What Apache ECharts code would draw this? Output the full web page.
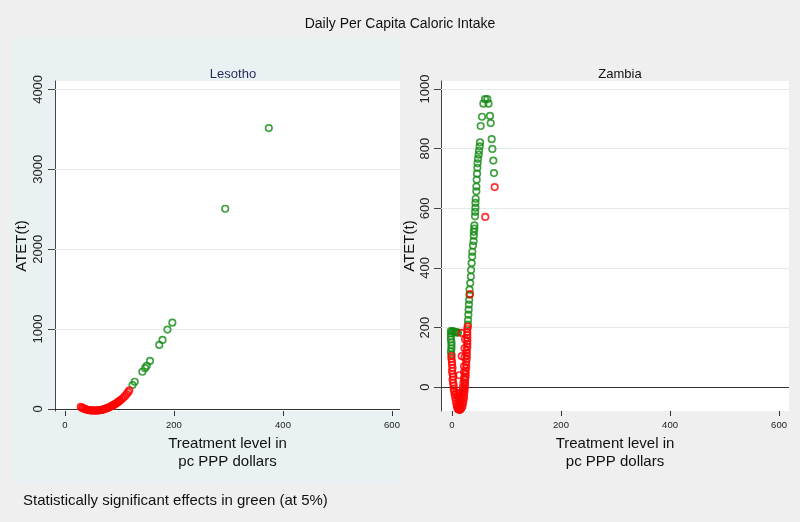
<!DOCTYPE html>
<html><head><meta charset="utf-8">
<script src="https://cdn.jsdelivr.net/npm/echarts@6/dist/echarts.min.js"></script>
<style>html,body{margin:0;padding:0;background:#efefef}#c{width:800px;height:522px}</style>
</head><body><div id="c"></div><script>
const chartTitle = 'Daily Per Capita Caloric Intake';
const panelNames = ['Lesotho', 'Zambia'];
const xTitle = 'Treatment level in\npc PPP dollars';
const yTitle = 'ATET(t)';
const footnote = 'Statistically significant effects in green (at 5%)';
const xTicks = [0, 200, 400, 600];
const lesothoYTicks = [0, 1000, 2000, 3000, 4000];
const zambiaYTicks = [0, 200, 400, 600, 800, 1000];

// Lesotho: [treatment level, ATET]
const lesothoRed = [[29,26],[31,17],[33,10],[35,4],[37,-1],[39,-6],[41,-10],[43,-13],[45,-15],[47,-17],[49,-18],[51,-19],[53,-19],[55,-19],[57,-19],[59,-18],[61,-17],[63,-16],[65,-14],[67,-11],[69,-8],[71,-4],[73,0],[75,5],[77,10],[79,15],[81,21],[83,28],[85,35],[87,42],[89,50],[91,57],[93,66],[95,75],[97,85],[99,95],[101,106],[104,122],[107,140],[110,160],[113,185],[116,210],[118,234]];
const lesothoGreen = [[124,299],[128,341],[142,466],[147,511],[150,540],[156,602],[173,802],[179,864],[188,994],[197,1081],[294,2506],[374,3516]];

// Zambia: [treatment level, ATET]
const zambiaRed = [[-1,104],[-1,95],[0,85],[0,75],[1,65],[0,55],[1,45],[2,35],[1,25],[2,15],[3,5],[3,-5],[4,-15],[5,-25],[6,-35],[7,-45],[8,-55],[9,-63],[10,-70],[11,-74],[13,-76],[15,-76],[17,-72],[19,-65],[20,-55],[21,-45],[22,-35],[22,-25],[23,-15],[23,-5],[24,5],[24,15],[24,25],[25,35],[25,45],[25,55],[26,65],[26,75],[26,85],[27,95],[27,105],[27,115],[27,125],[28,135],[28,145],[28,155],[28,165],[28,175],[28,185],[28,195],[29,203],[8,-20],[10,-30],[12,-40],[14,-50],[16,-60],[12,-60],[15,-68],[18,-50],[18,-35],[19,-20],[20,-10],[16,-40],[14,-20],[20,0],[21,15],[22,30],[22,50],[22,70],[23,100],[23,130],[24,160],[13.5,40],[17.8,104],[17.7,182],[33,312],[61,571],[78.3,671]];
const zambiaGreen = [[-2,188],[-2,180],[-2,170],[-2,160],[-1,150],[-1,140],[-1,130],[-2,120],[-1,110],[1,188],[3,186],[5,185],[7,184],[9,184],[11,183],[29,210],[29.5,225],[30,243],[30.5,260],[31,277],[31.5,293],[32,310],[32.2,327],[33.4,349],[34.6,371],[35,393],[36,416],[37,438],[37.2,454],[38.5,475],[39.6,490],[40,508],[40.1,521],[41,532],[41,543],[42.3,573],[42.5,588],[43,602],[43,618],[43.5,632],[44.7,657],[44.7,673],[45.3,696],[46,716],[46.5,736],[47,751],[47.7,766],[48.9,780],[49.5,793],[50.8,808],[51.4,821],[52.6,876],[55,907],[57.5,951],[60.6,966],[64.8,966],[67,951],[69.7,910],[71,886],[72.8,832],[74,799],[75.8,760],[77,718]];

const FONT = '"Liberation Sans", Arial, sans-serif';
const RED = '#ff0000', GREEN = '#138a13';
const chart = echarts.init(document.getElementById('c'), null, {renderer: 'canvas'});

function xAxis(gi) {
  return {
    type: 'value', gridIndex: gi, min: gi === 0 ? -18.3 : -20.2, max: gi === 0 ? 614.7 : 618.3,
    axisLine: {show: false, onZero: false},
    axisTick: {show: true, length: 5, customValues: xTicks, lineStyle: {color: '#333'}},
    axisLabel: {customValues: xTicks, fontSize: 9.5, color: '#222', margin: 9, fontFamily: FONT, formatter: v => String(v)},
    splitLine: {show: false},
    name: xTitle, nameLocation: 'middle', nameGap: 19,
    nameTextStyle: {fontSize: 15, color: '#111', fontFamily: FONT, lineHeight: 18}
  };
}
function yAxis(gi, ticks, min, max, gap, margin) {
  return {
    type: 'value', gridIndex: gi, min: min, max: max,
    axisLine: {show: true, onZero: false, lineStyle: {color: '#444', width: 1}},
    axisTick: {show: true, length: 7, customValues: ticks, lineStyle: {color: '#444'}},
    axisLabel: {customValues: ticks, rotate: 90, fontSize: 13, color: '#222', margin: margin, fontFamily: FONT, formatter: v => String(v)},
    splitLine: {show: false},
    name: yTitle, nameLocation: 'middle', nameGap: gap, nameRotate: 90,
    nameTextStyle: {fontSize: 15, color: '#111', fontFamily: FONT}
  };
}
function guides(ticks) {
  return {
    silent: true, symbol: 'none', z: 1, label: {show: false},
    data: ticks.filter(v => v !== 0).map(v => ({yAxis: v, lineStyle: {color: '#e2eaec', width: 1, type: 'solid'}}))
      .concat([{yAxis: 0, lineStyle: {color: '#333', width: 1, type: 'solid'}}])
  };
}
const mk = {symbol: 'circle', symbolSize: 6.5, itemStyle: {color: 'rgba(0,0,0,0)', borderWidth: 1.7}};

chart.setOption({
  animation: false,
  backgroundColor: '#efefef',
  graphic: [{type: 'rect', z: -10, silent: true, shape: {x: 12, y: 38, width: 388, height: 445}, style: {fill: '#eaf1f3'}}],
  title: [
    {text: chartTitle, left: 'center', top: 12, textStyle: {fontSize: 14, fontWeight: 'normal', color: '#111', fontFamily: FONT}},
    {text: panelNames[0], left: 228, top: 63, textAlign: 'center', textStyle: {fontSize: 13, fontWeight: 'normal', color: '#1e2d5c', fontFamily: FONT}},
    {text: panelNames[1], left: 615, top: 63, textAlign: 'center', textStyle: {fontSize: 13, fontWeight: 'normal', color: '#111', fontFamily: FONT}},
    {text: footnote, left: 18, top: 488, textStyle: {fontSize: 15, fontWeight: 'normal', color: '#111', fontFamily: FONT}}
  ],
  grid: [
    {left: 55, top: 81, width: 345, height: 330, show: true, backgroundColor: '#ffffff', borderWidth: 0},
    {left: 441, top: 81, width: 348, height: 330, show: true, backgroundColor: '#ffffff', borderWidth: 0}
  ],
  xAxis: [xAxis(0), xAxis(1)],
  yAxis: [yAxis(0, lesothoYTicks, -25, 4105, 26, 10), yAxis(1, zambiaYTicks, -80, 1027, 23.5, 9)],
  series: [
    {type: 'scatter', xAxisIndex: 0, yAxisIndex: 0, data: lesothoGreen, ...mk, itemStyle: {...mk.itemStyle, borderColor: GREEN}, markLine: guides(lesothoYTicks)},
    {type: 'scatter', xAxisIndex: 0, yAxisIndex: 0, data: lesothoRed, ...mk, itemStyle: {...mk.itemStyle, borderColor: RED}},
    {type: 'scatter', xAxisIndex: 1, yAxisIndex: 1, data: zambiaGreen, ...mk, itemStyle: {...mk.itemStyle, borderColor: GREEN}, markLine: guides(zambiaYTicks)},
    {type: 'scatter', xAxisIndex: 1, yAxisIndex: 1, data: zambiaRed, ...mk, itemStyle: {...mk.itemStyle, borderColor: RED}}
  ]
});
</script></body></html>
